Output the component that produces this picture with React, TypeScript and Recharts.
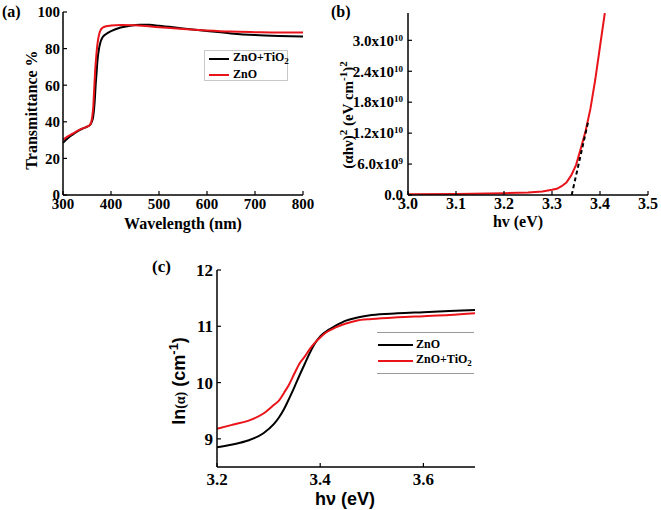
import React from "react";
import { LineChart, Line, XAxis, YAxis, Legend } from "recharts";

const serif = '"Liberation Serif", "Times New Roman", serif';
const sans = '"Liberation Sans", Arial, sans-serif';

// (a) transmittance spectra
const wlTiO2 = [300, 310, 320, 330, 340, 350, 356, 360, 363, 366, 368, 370, 372, 375, 378, 382, 390, 400, 420, 440, 460, 480, 500, 550, 600, 650, 700, 750, 800];
const tTiO2 = [28.5, 31, 33, 34.8, 36.2, 37.3, 38.2, 40, 43, 51, 60, 67, 74, 80, 83.5, 86, 88, 89.5, 91.5, 92.5, 93, 93, 92.5, 91, 89.6, 88.3, 87.4, 86.9, 86.6];
const wlZnO = [300, 310, 320, 330, 340, 350, 356, 359, 361, 363, 365, 367, 369, 372, 375, 378, 383, 390, 400, 420, 450, 500, 550, 600, 650, 700, 750, 800];
const tZnO = [30.2, 32, 33.5, 35, 36.3, 37.3, 38.3, 40, 43, 48, 58, 68, 75, 83, 87.5, 90, 91.5, 92.2, 92.6, 92.9, 92.7, 91.7, 90.7, 89.9, 89.3, 89, 88.8, 88.8];

// (b) Tauc plot
const hvTauc = [3.0, 3.1, 3.2, 3.25, 3.28, 3.3, 3.31, 3.32, 3.33, 3.34, 3.35, 3.36, 3.37, 3.38, 3.39, 3.4, 3.41];
const ahv2 = [0.15e9, 0.2e9, 0.35e9, 0.5e9, 0.7e9, 1.0e9, 1.2e9, 1.7e9, 2.4e9, 3.8e9, 5.8e9, 9.0e9, 12.4e9, 16.7e9, 22.3e9, 28.8e9, 35.3e9];
const fitHv = [3.341, 3.376];
const fitVal = [0, 14.5e9];

// (c) ln(alpha)
const hvLn = [3.2, 3.23, 3.26, 3.29, 3.31, 3.32, 3.33, 3.34, 3.35, 3.36, 3.37, 3.38, 3.39, 3.4, 3.41, 3.43, 3.45, 3.47, 3.5, 3.55, 3.6, 3.65, 3.7];
const lnZnO = [8.85, 8.9, 8.97, 9.1, 9.26, 9.38, 9.53, 9.72, 9.92, 10.13, 10.33, 10.53, 10.7, 10.82, 10.9, 11.01, 11.1, 11.15, 11.2, 11.23, 11.25, 11.27, 11.29];
const lnTiO2 = [9.18, 9.25, 9.32, 9.45, 9.6, 9.68, 9.82, 9.97, 10.16, 10.34, 10.46, 10.6, 10.71, 10.8, 10.88, 10.98, 11.05, 11.1, 11.13, 11.16, 11.18, 11.2, 11.23];

const legendOrderA = ["ZnO+TiO2", "ZnO"];
const legendOrderC = ["ZnO", "ZnO+TiO2"];

const zip = (xs: number[], ys: number[]) => xs.map((x, i) => ({ x, y: ys[i] }));

const axisLine = { stroke: "#000", strokeWidth: 1.5 };
const tickLine = { stroke: "#000", strokeWidth: 1.2 };

const PowTick = (props: any) => {
  const { x, y, payload } = props;
  const v = payload.value as number;
  let mant = "0.0";
  let exp = "";
  if (v !== 0) {
    const e = Math.floor(Math.log10(v) + 1e-9);
    mant = (v / Math.pow(10, e)).toFixed(1);
    exp = String(e);
  }
  return (
    <text x={x} y={y} dy="0.35em" textAnchor="end" fill="#000" fontFamily={serif} fontWeight="bold" fontSize={15}>
      {mant}
      {exp && (
        <>
          x10<tspan dy="-0.55em" fontSize={9}>{exp}</tspan>
        </>
      )}
    </text>
  );
};

const SeriesName = ({ name }: { name: string }) =>
  name === "ZnO+TiO2" ? (
    <span>ZnO+TiO<sub style={{ fontSize: 9 }}>2</sub></span>
  ) : (
    <span>{name}</span>
  );

const sortBy = (payload: any[], order: string[]) =>
  [...(payload || [])].sort((a, b) => order.indexOf(a.value) - order.indexOf(b.value));

const LegendA = (props: any) => (
  <div style={{ position: "relative", width: 84, height: 31, border: "1px solid #c8c8c8", boxSizing: "border-box", background: "#fff" }}>
    {sortBy(props.payload, legendOrderA).map((p: any, i: number) => (
      <div key={i} style={{ position: "absolute", left: 4, top: i === 0 ? 0 : 16, height: 15, display: "flex", alignItems: "center", fontFamily: serif, fontWeight: "bold", fontSize: 12, color: "#000", whiteSpace: "nowrap" }}>
        <span style={{ display: "inline-block", width: 20, height: 2, background: p.color, marginRight: 4 }} />
        <SeriesName name={p.value} />
      </div>
    ))}
  </div>
);

const LegendC = (props: any) => (
  <div style={{ position: "relative", width: 97, height: 42, borderTop: "1px solid #999", borderBottom: "1px solid #999", boxSizing: "border-box" }}>
    {sortBy(props.payload, legendOrderC).map((p: any, i: number) => (
      <div key={i} style={{ position: "absolute", left: 1, top: i === 0 ? 4 : 20, height: 15, display: "flex", alignItems: "center", fontFamily: serif, fontWeight: "bold", fontSize: 12, color: "#000", whiteSpace: "nowrap" }}>
        <span style={{ display: "inline-block", width: 35, height: 2, background: p.color, marginRight: 3 }} />
        <SeriesName name={p.value} />
      </div>
    ))}
  </div>
);

export default function App() {
  const tickA = { fill: "#000", fontFamily: serif, fontWeight: "bold", fontSize: 15 };
  const tickC = { fill: "#000", fontFamily: serif, fontWeight: "bold", fontSize: 17 };
  return (
    <div style={{ position: "absolute", left: 0, top: 0, width: 661, height: 510, background: "#fff" }}>
      {/* (a) */}
      <div style={{ position: "absolute", left: 0, top: 0 }}>
        <LineChart width={330} height={240} margin={{ top: 12, right: 27, bottom: 0, left: 0 }}>
          <XAxis dataKey="x" type="number" domain={[300, 800]} ticks={[300, 400, 500, 600, 700, 800]} allowDataOverflow height={45} axisLine={axisLine} tickLine={tickLine} tickSize={-4} tickMargin={7} tick={tickA} />
          <XAxis xAxisId="top" orientation="top" type="number" domain={[300, 800]} height={0} axisLine={axisLine} tick={false} tickLine={false} />
          <YAxis dataKey="y" type="number" domain={[0, 100]} ticks={[0, 20, 40, 60, 80, 100]} width={63} axisLine={axisLine} tickLine={tickLine} tickSize={-4} tickMargin={7} tick={tickA} />
          <YAxis yAxisId="right" orientation="right" type="number" domain={[0, 100]} width={0} axisLine={axisLine} tick={false} tickLine={false} />
          <Line data={zip(wlTiO2, tTiO2)} dataKey="y" name="ZnO+TiO2" type="monotone" stroke="#000" strokeWidth={2} dot={false} isAnimationActive={false} />
          <Line data={zip(wlZnO, tZnO)} dataKey="y" name="ZnO" type="monotone" stroke="#e8141a" strokeWidth={2} dot={false} isAnimationActive={false} />
          <Legend layout="vertical" align="center" verticalAlign="middle" wrapperStyle={{ left: 204, top: 50, width: 84, height: 31 }} content={<LegendA />} />
          <text x={2} y={17} fontFamily={serif} fontWeight="bold" fontSize={16} fill="#000">(a)</text>
          <text transform="translate(37,110) rotate(-90)" textAnchor="middle" fontFamily={serif} fontWeight="bold" fontSize={16} fill="#000">Transmittance %</text>
          <text x={183} y={229} textAnchor="middle" fontFamily={serif} fontWeight="bold" fontSize={16} fill="#000">Wavelength (nm)</text>
        </LineChart>
      </div>

      {/* (b) */}
      <div style={{ position: "absolute", left: 330, top: 0 }}>
        <LineChart width={331} height={240} margin={{ top: 13, right: 13, bottom: 0, left: 0 }}>
          <XAxis dataKey="x" type="number" domain={[3.0, 3.5]} ticks={[3.0, 3.1, 3.2, 3.3, 3.4, 3.5]} tickFormatter={(v: number) => v.toFixed(1)} allowDataOverflow height={45} axisLine={axisLine} tickLine={tickLine} tickSize={-4} tickMargin={7} tick={{ ...tickA, fontSize: 16 }} />
          <XAxis xAxisId="top" orientation="top" type="number" domain={[3.0, 3.5]} height={0} axisLine={axisLine} tick={false} tickLine={false} />
          <YAxis dataKey="y" type="number" domain={[0, 3.53e10]} ticks={[0, 6e9, 1.2e10, 1.8e10, 2.4e10, 3.0e10]} allowDataOverflow width={78} axisLine={axisLine} tickLine={tickLine} tickSize={-4} tickMargin={9} tick={<PowTick />} />
          <YAxis yAxisId="right" orientation="right" type="number" domain={[0, 3.53e10]} width={0} axisLine={axisLine} tick={false} tickLine={false} />
          <Line data={zip(hvTauc, ahv2)} dataKey="y" type="linear" stroke="#e8141a" strokeWidth={2} dot={false} isAnimationActive={false} />
          <Line data={zip(fitHv, fitVal)} dataKey="y" type="linear" stroke="#000" strokeWidth={2} strokeDasharray="4 3" dot={false} isAnimationActive={false} />
          <text x={1} y={17} fontFamily={serif} fontWeight="bold" fontSize={16} fill="#000">(b)</text>
          <text transform="translate(23,115) rotate(-90)" textAnchor="middle" fontFamily={serif} fontWeight="bold" fontSize={15} fill="#000">
            (αhν)<tspan dy="-6" fontSize={11}>2</tspan>
            <tspan dy="6"> (eV cm</tspan>
            <tspan dy="-6" fontSize={11}>-1</tspan>
            <tspan dy="6">)</tspan>
            <tspan dy="-6" fontSize={11}>2</tspan>
          </text>
          <text x={188} y={227} textAnchor="middle" fontFamily={serif} fontWeight="bold" fontSize={16} fill="#000">hv (eV)</text>
        </LineChart>
      </div>

      {/* (c) */}
      <div style={{ position: "absolute", left: 130, top: 250 }}>
        <LineChart width={400} height={260} margin={{ top: 20, right: 55, bottom: 0, left: 0 }}>
          <XAxis dataKey="x" type="number" domain={[3.2, 3.7]} ticks={[3.2, 3.4, 3.6]} tickFormatter={(v: number) => v.toFixed(1)} allowDataOverflow height={43} axisLine={axisLine} tickLine={tickLine} tickSize={-4} tickMargin={10} tick={tickC} />
          <XAxis xAxisId="top" orientation="top" type="number" domain={[3.2, 3.7]} height={0} axisLine={axisLine} tick={false} tickLine={false} />
          <YAxis dataKey="y" type="number" domain={[8.5, 12]} ticks={[9, 10, 11, 12]} allowDataOverflow width={87} axisLine={axisLine} tickLine={tickLine} tickSize={-4} tickMargin={8} tick={tickC} />
          <YAxis yAxisId="right" orientation="right" type="number" domain={[8.5, 12]} width={0} axisLine={axisLine} tick={false} tickLine={false} />
          <Line data={zip(hvLn, lnZnO)} dataKey="y" name="ZnO" type="monotone" stroke="#000" strokeWidth={2} dot={false} isAnimationActive={false} />
          <Line data={zip(hvLn, lnTiO2)} dataKey="y" name="ZnO+TiO2" type="monotone" stroke="#e8141a" strokeWidth={2} dot={false} isAnimationActive={false} />
          <Legend layout="vertical" align="center" verticalAlign="middle" wrapperStyle={{ left: 247, top: 82, width: 97, height: 42 }} content={<LegendC />} />
          <text x={22} y={22} fontFamily={serif} fontWeight="bold" fontSize={17} fill="#000">(c)</text>
          <text transform="translate(55,131) rotate(-90)" textAnchor="middle" fontFamily={sans} fontWeight="bold" fontSize={18} fill="#000">
            ln<tspan fontFamily={serif} fontSize={14}>(α)</tspan> (cm<tspan dy="-7" fontSize={13}>-1</tspan>
            <tspan dy="7">)</tspan>
          </text>
          <text x={215} y={255} textAnchor="middle" fontFamily={sans} fontWeight="bold" fontSize={18} fill="#000">hν (eV)</text>
        </LineChart>
      </div>
    </div>
  );
}
